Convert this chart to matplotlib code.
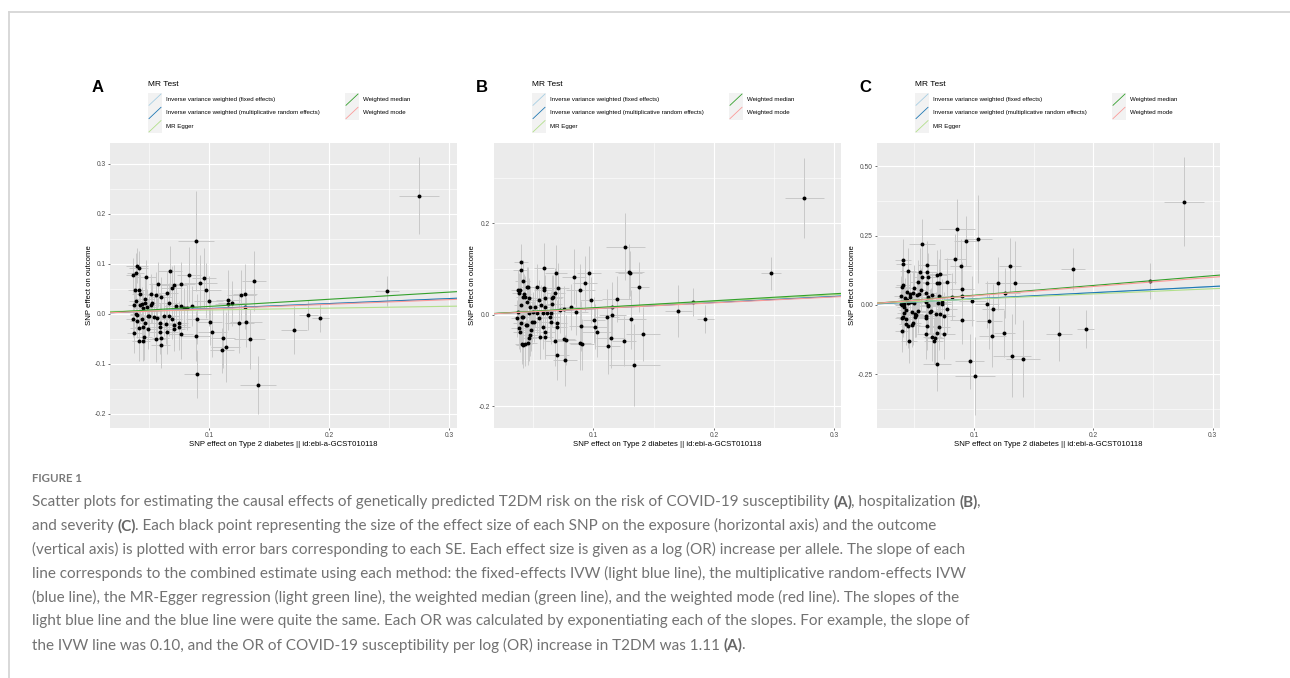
import matplotlib
matplotlib.use("Agg")
import matplotlib.pyplot as plt
from matplotlib.lines import Line2D
from matplotlib.patches import Rectangle
import numpy as np

# ---------------- data ----------------
# panel A: COVID-19 susceptibility
a_bx = [0.275, 0.089, 0.248, 0.138, 0.0905, 0.141, 0.171, 0.183, 0.193, 0.134,
        0.111, 0.114, 0.112, 0.103, 0.101, 0.100, 0.098, 0.096, 0.093, 0.090,
        0.089, 0.0837, 0.086, 0.082, 0.0767, 0.0767, 0.077, 0.073, 0.071, 0.071,
        0.069, 0.068, 0.067, 0.065, 0.067, 0.071, 0.064, 0.075, 0.075, 0.069,
        0.060, 0.058, 0.059, 0.059, 0.060, 0.060, 0.0597, 0.063, 0.0557, 0.056,
        0.053, 0.052, 0.0515, 0.050, 0.054, 0.049, 0.048, 0.047, 0.047, 0.0487,
        0.045, 0.044, 0.043, 0.042, 0.044, 0.045, 0.046, 0.045, 0.042, 0.0416,
        0.0404, 0.0404, 0.0416, 0.039, 0.037, 0.0383, 0.0395, 0.0373, 0.037, 0.038,
        0.040, 0.0423, 0.0395, 0.047, 0.049, 0.0565, 0.065, 0.116, 0.1195, 0.116,
        0.1255, 0.127, 0.130, 0.131, 0.130, 0.079]
a_by = [0.236, 0.145, 0.045, 0.065, -0.120, -0.142, -0.033, -0.003, -0.009, -0.051,
        -0.073, -0.067, -0.049, -0.037, -0.017, 0.026, 0.047, 0.071, 0.062, -0.011,
        -0.045, 0.078, 0.015, 0.012, 0.059, -0.040, 0.015, 0.016, 0.057, -0.030,
        0.051, 0.086, 0.021, 0.041, -0.004, -0.022, -0.021, -0.027, -0.019, -0.011,
        0.033, 0.059, -0.018, -0.036, -0.063, -0.048, -0.026, -0.005, -0.051, 0.038,
        0.022, 0.039, 0.017, -0.004, -0.006, -0.031, 0.073, 0.021, 0.029, 0.014,
        0.011, 0.019, 0.039, 0.047, -0.010, -0.026, -0.047, -0.055, -0.054, -0.029,
        -0.003, 0.096, 0.091, 0.082, 0.077, 0.047, 0.025, 0.017, -0.011, -0.039,
        -0.014, 0.017, 0.000, -0.019, -0.005, -0.009, -0.036, 0.019, 0.021, 0.027,
        -0.019, 0.037, 0.039, -0.017, 0.014, 0.011]
a_sx = [0.017, 0.015, 0.010, 0.010, 0.011, 0.015, 0.011, 0.008, 0.007, 0.013,
        0.010, 0.012, 0.010, 0.012, 0.010, 0.012, 0.012, 0.010, 0.014, 0.009,
        0.012, 0.010, 0.010, 0.009, 0.012, 0.010, 0.008, 0.010, 0.011, 0.009,
        0.009, 0.010, 0.008, 0.009, 0.008, 0.010, 0.008, 0.009, 0.008, 0.009,
        0.009, 0.008, 0.008, 0.009, 0.008, 0.007, 0.008, 0.009, 0.008, 0.008,
        0.007, 0.008, 0.007, 0.008, 0.008, 0.007, 0.008, 0.007, 0.007, 0.008,
        0.007, 0.006, 0.007, 0.006, 0.007, 0.007, 0.007, 0.006, 0.006, 0.007,
        0.006, 0.009, 0.008, 0.007, 0.006, 0.006, 0.006, 0.005, 0.006, 0.006,
        0.006, 0.006, 0.005, 0.007, 0.007, 0.008, 0.009, 0.011, 0.012, 0.010,
        0.012, 0.012, 0.010, 0.013, 0.010, 0.008]
a_sy = [0.077, 0.100, 0.030, 0.060, 0.048, 0.058, 0.048, 0.030, 0.028, 0.060,
        0.045, 0.070, 0.060, 0.050, 0.045, 0.050, 0.055, 0.060, 0.055, 0.050,
        0.050, 0.055, 0.040, 0.045, 0.045, 0.050, 0.040, 0.045, 0.040, 0.045,
        0.045, 0.050, 0.040, 0.045, 0.040, 0.045, 0.040, 0.045, 0.045, 0.040,
        0.040, 0.045, 0.040, 0.045, 0.045, 0.040, 0.040, 0.040, 0.045, 0.045,
        0.040, 0.040, 0.035, 0.040, 0.040, 0.040, 0.035, 0.035, 0.040, 0.035,
        0.035, 0.035, 0.040, 0.035, 0.040, 0.040, 0.045, 0.040, 0.040, 0.040,
        0.035, 0.035, 0.035, 0.040, 0.035, 0.035, 0.035, 0.035, 0.035, 0.040,
        0.035, 0.035, 0.035, 0.040, 0.035, 0.040, 0.045, 0.050, 0.045, 0.060,
        0.060, 0.050, 0.060, 0.050, 0.045, 0.040]

# panel B: hospitalization
b_bx = [0.275, 0.2475, 0.1825, 0.1705, 0.193, 0.1266, 0.130, 0.1307, 0.138, 0.134,
        0.1415, 0.1257, 0.1315, 0.1196, 0.1158, 0.1158, 0.111, 0.1145, 0.1125, 0.1005,
        0.101, 0.103, 0.0967, 0.098, 0.093, 0.089, 0.0898, 0.089, 0.0906, 0.084,
        0.0815, 0.086, 0.0768, 0.076, 0.077, 0.0696, 0.069, 0.071, 0.0685, 0.0657,
        0.0668, 0.068, 0.070, 0.070, 0.072, 0.066, 0.065, 0.064, 0.0646, 0.0757,
        0.059, 0.059, 0.059, 0.060, 0.0599, 0.0585, 0.058, 0.060, 0.0599, 0.0557,
        0.0535, 0.0546, 0.0563, 0.053, 0.052, 0.050, 0.0507, 0.049, 0.0486, 0.0475,
        0.0466, 0.046, 0.0452, 0.0469, 0.046, 0.0447, 0.0475, 0.0464, 0.0447, 0.0427,
        0.0419, 0.0419, 0.0433, 0.0419, 0.0408, 0.0414, 0.040, 0.0397, 0.0391, 0.0386,
        0.040, 0.0405, 0.0397, 0.0391, 0.0378, 0.0372, 0.037, 0.038, 0.0433, 0.0441,
        0.0546, 0.0613]
b_by = [0.256, 0.0905, 0.028, 0.008, -0.0095, 0.149, 0.094, 0.0905, 0.061, -0.110,
        -0.042, -0.058, -0.010, 0.034, 0.0175, -0.0015, -0.004, -0.052, -0.069, -0.012,
        -0.026, -0.037, 0.0905, 0.032, 0.0686, 0.055, -0.025, -0.061, -0.065, 0.083,
        0.0175, 0.005, -0.100, -0.053, -0.055, -0.088, 0.092, 0.058, 0.0467, 0.036,
        0.038, -0.057, -0.0175, -0.026, 0.010, 0.023, 0.003, -0.004, -0.015, 0.012,
        0.1015, 0.059, 0.054, 0.036, 0.0175, 0.003, -0.026, -0.037, -0.048, -0.048,
        0.060, 0.032, 0.021, 0.003, 0.0175, 0.005, -0.015, -0.015, -0.0336, -0.0445,
        -0.052, -0.061, 0.0285, 0.036, 0.060, 0.060, 0.0175, 0.003, -0.0226, 0.0445,
        0.039, -0.004, -0.063, -0.066, -0.063, 0.0745, 0.1146, 0.099, 0.054, 0.0467,
        0.021, -0.004, -0.019, -0.037, 0.054, 0.0066, -0.008, -0.030, 0.039, -0.0226,
        -0.008, 0.003]
b_sx = [0.016, 0.008, 0.010, 0.011, 0.007, 0.016, 0.012, 0.010, 0.008, 0.021,
        0.014, 0.010, 0.012, 0.012, 0.010, 0.011, 0.010, 0.012, 0.010, 0.009,
        0.010, 0.012, 0.010, 0.009, 0.010, 0.012, 0.010, 0.009, 0.010, 0.010,
        0.009, 0.010, 0.010, 0.009, 0.009, 0.010, 0.009, 0.009, 0.008, 0.008,
        0.008, 0.009, 0.008, 0.008, 0.009, 0.008, 0.008, 0.008, 0.008, 0.009,
        0.008, 0.008, 0.008, 0.008, 0.007, 0.008, 0.008, 0.008, 0.007, 0.008,
        0.008, 0.007, 0.008, 0.007, 0.007, 0.007, 0.007, 0.007, 0.007, 0.007,
        0.007, 0.007, 0.006, 0.006, 0.007, 0.006, 0.006, 0.006, 0.006, 0.006,
        0.006, 0.006, 0.006, 0.006, 0.006, 0.006, 0.006, 0.006, 0.006, 0.006,
        0.006, 0.006, 0.006, 0.006, 0.006, 0.005, 0.005, 0.006, 0.006, 0.006,
        0.007, 0.008]
b_sy = [0.088, 0.036, 0.030, 0.057, 0.030, 0.073, 0.060, 0.050, 0.055, 0.090,
        0.060, 0.055, 0.065, 0.050, 0.055, 0.050, 0.060, 0.065, 0.060, 0.050,
        0.050, 0.055, 0.060, 0.050, 0.060, 0.055, 0.055, 0.060, 0.055, 0.060,
        0.050, 0.050, 0.055, 0.050, 0.055, 0.055, 0.060, 0.055, 0.055, 0.050,
        0.050, 0.055, 0.050, 0.050, 0.050, 0.050, 0.050, 0.050, 0.050, 0.050,
        0.055, 0.050, 0.050, 0.050, 0.045, 0.045, 0.050, 0.050, 0.050, 0.050,
        0.050, 0.045, 0.045, 0.045, 0.045, 0.045, 0.045, 0.045, 0.045, 0.045,
        0.050, 0.050, 0.045, 0.045, 0.045, 0.045, 0.045, 0.045, 0.045, 0.045,
        0.045, 0.045, 0.050, 0.050, 0.045, 0.045, 0.040, 0.045, 0.045, 0.045,
        0.045, 0.045, 0.045, 0.045, 0.045, 0.040, 0.040, 0.045, 0.045, 0.045,
        0.045, 0.050]

# panel C: severity
c_bx = [0.276, 0.2474, 0.183, 0.1713, 0.1937, 0.0964, 0.1008, 0.086, 0.1034, 0.093,
        0.084, 0.0888, 0.090, 0.0897, 0.090, 0.0986, 0.111, 0.1126, 0.116, 0.1154,
        0.1199, 0.1263, 0.1255, 0.130, 0.134, 0.132, 0.141, 0.0815, 0.077, 0.077,
        0.0751, 0.0751, 0.073, 0.073, 0.0715, 0.0706, 0.0706, 0.0712, 0.0706, 0.0692,
        0.0689, 0.0695, 0.0692, 0.0689, 0.0678, 0.067, 0.0662, 0.065, 0.065, 0.0634,
        0.0642, 0.0611, 0.0614, 0.0614, 0.0614, 0.0606, 0.0606, 0.0606, 0.060, 0.060,
        0.060, 0.060, 0.0606, 0.060, 0.0564, 0.0566, 0.0552, 0.0547, 0.054, 0.0533,
        0.053, 0.0522, 0.051, 0.0505, 0.0494, 0.0494, 0.0488, 0.0477, 0.0477, 0.0485,
        0.0466, 0.046, 0.0455, 0.0449, 0.0446, 0.0446, 0.0438, 0.0438, 0.0432, 0.0427,
        0.0427, 0.0418, 0.0413, 0.0415, 0.0407, 0.0404, 0.0404, 0.0399, 0.0404, 0.0399,
        0.0393, 0.0387, 0.0385, 0.0393, 0.041, 0.046, 0.0488, 0.0508]
c_by = [0.3726, 0.0865, 0.130, -0.103, -0.0865, -0.203, -0.255, 0.273, 0.238, 0.231,
        0.165, 0.142, 0.0565, 0.0337, -0.054, 0.0144, 0.0024, -0.059, -0.013, -0.112,
        0.078, 0.042, -0.102, 0.142, 0.0805, -0.183, -0.1935, 0.030, 0.084, -0.0156,
        -0.1046, -0.0385, 0.012, 0.0036, 0.112, 0.0805, 0.0337, -0.0337, -0.078, 0.108,
        0.078, 0.006, -0.102, -0.214, -0.0325, -0.120, -0.1286, -0.1166, 0.036, -0.024,
        -0.020, 0.102, 0.030, 0.000, -0.004, 0.144, 0.120, 0.0805, 0.042, 0.012,
        -0.0397, -0.048, -0.0757, -0.106, 0.219, 0.102, 0.054, 0.120, 0.0397, 0.0817,
        -0.0216, 0.036, -0.037, -0.0337, 0.0625, 0.006, 0.042, -0.024, -0.072, -0.066,
        0.030, 0.0397, -0.1286, -0.0757, 0.006, 0.124, 0.0457, 0.018, -0.018, -0.049,
        -0.0697, 0.024, -0.006, -0.0276, 0.1466, 0.162, 0.072, 0.066, -0.042, -0.048,
        0.000, 0.0337, 0.0024, -0.094, 0.0024, 0.012, 0.012, -0.042]
c_sx = [0.017, 0.008, 0.010, 0.011, 0.007, 0.012, 0.017, 0.015, 0.012, 0.010,
        0.009, 0.009, 0.010, 0.010, 0.010, 0.011, 0.010, 0.011, 0.009, 0.011,
        0.011, 0.012, 0.009, 0.009, 0.021, 0.016, 0.014, 0.009, 0.008, 0.009,
        0.009, 0.009, 0.008, 0.008, 0.009, 0.008, 0.008, 0.008, 0.009, 0.008,
        0.008, 0.008, 0.008, 0.012, 0.008, 0.008, 0.008, 0.008, 0.008, 0.008,
        0.008, 0.008, 0.008, 0.007, 0.008, 0.008, 0.008, 0.008, 0.008, 0.008,
        0.008, 0.008, 0.008, 0.008, 0.011, 0.008, 0.007, 0.008, 0.007, 0.007,
        0.007, 0.007, 0.007, 0.007, 0.007, 0.007, 0.007, 0.007, 0.007, 0.007,
        0.006, 0.006, 0.007, 0.006, 0.006, 0.007, 0.006, 0.006, 0.006, 0.006,
        0.006, 0.006, 0.006, 0.006, 0.006, 0.007, 0.006, 0.006, 0.006, 0.006,
        0.006, 0.006, 0.006, 0.006, 0.006, 0.006, 0.007, 0.007]
c_sy = [0.160, 0.065, 0.075, 0.100, 0.070, 0.100, 0.140, 0.110, 0.160, 0.090,
        0.090, 0.095, 0.100, 0.090, 0.085, 0.090, 0.085, 0.100, 0.090, 0.110,
        0.095, 0.090, 0.085, 0.100, 0.150, 0.150, 0.140, 0.085, 0.085, 0.085,
        0.090, 0.085, 0.080, 0.080, 0.090, 0.085, 0.080, 0.085, 0.085, 0.090,
        0.085, 0.080, 0.085, 0.095, 0.080, 0.090, 0.085, 0.085, 0.080, 0.080,
        0.080, 0.085, 0.080, 0.080, 0.080, 0.085, 0.085, 0.085, 0.080, 0.080,
        0.080, 0.085, 0.085, 0.090, 0.090, 0.085, 0.080, 0.085, 0.080, 0.080,
        0.080, 0.080, 0.080, 0.080, 0.080, 0.075, 0.080, 0.080, 0.080, 0.080,
        0.075, 0.075, 0.080, 0.080, 0.075, 0.080, 0.075, 0.075, 0.075, 0.075,
        0.075, 0.075, 0.075, 0.075, 0.075, 0.075, 0.075, 0.075, 0.075, 0.075,
        0.075, 0.070, 0.070, 0.075, 0.070, 0.075, 0.075, 0.075]

# MR estimates (intercept, slope) per method
methods = ["Inverse variance weighted (fixed effects)",
           "Inverse variance weighted (multiplicative random effects)",
           "MR Egger", "Weighted median", "Weighted mode"]
method_colors = ["#A6CEE3", "#1F78B4", "#B2DF8A", "#33A02C", "#FB9A99"]
a_icpt = [0.0, 0.0, 0.0035, 0.0, 0.0]
a_slope = [0.100, 0.100, 0.037, 0.143, 0.093]
b_icpt = [0.0, 0.0, 0.0, 0.0, 0.0]
b_slope = [0.134, 0.134, 0.146, 0.153, 0.130]
c_icpt = [0.0, 0.0, 0.0025, 0.0, 0.0]
c_slope = [0.222, 0.222, 0.187, 0.352, 0.333]

xticks = [0.1, 0.2, 0.3]
xticklabels = ["0.1", "0.2", "0.3"]

# ---------------- figure ----------------
W, H = 1290, 678
fig = plt.figure(figsize=(W / 100, H / 100), dpi=100)
SANS = ["Liberation Sans", "DejaVu Sans"]


def fx(x):
    return x / W


def fy(y):
    return 1 - y / H


# page frame
fig.add_artist(Line2D([fx(9), 1], [fy(11.5), fy(11.5)], color="#d6d6d6", lw=1.3))
fig.add_artist(Line2D([fx(9), fx(9)], [fy(11.5), 0], color="#d6d6d6", lw=1.3))

panels = [
    dict(letter="A", left=110, right=457, xlim=(0.0177, 0.3067), ylim=(-0.2287, 0.341),
         yt=[-0.2, -0.1, 0.0, 0.1, 0.2, 0.3], ytl=["-0.2", "-0.1", "0.0", "0.1", "0.2", "0.3"],
         ym=[-0.15, -0.05, 0.05, 0.15, 0.25],
         bx=a_bx, by=a_by, sx=a_sx, sy=a_sy, icpt=a_icpt, slope=a_slope, ylab_off=21),
    dict(letter="B", left=494, right=841, xlim=(0.0176, 0.3055), ylim=(-0.248, 0.376),
         yt=[-0.2, 0.0, 0.2], ytl=["-0.2", "0.0", "0.2"], ym=[-0.1, 0.1, 0.3],
         bx=b_bx, by=b_by, sx=b_sx, sy=b_sy, icpt=b_icpt, slope=b_slope, ylab_off=21),
    dict(letter="C", left=877, right=1220, xlim=(0.0186, 0.3062), ylim=(-0.4435, 0.584),
         yt=[-0.25, 0.0, 0.25, 0.5], ytl=["-0.25", "0.00", "0.25", "0.50"],
         ym=[-0.375, -0.125, 0.125, 0.375],
         bx=c_bx, by=c_by, sx=c_sx, sy=c_sy, icpt=c_icpt, slope=c_slope, ylab_off=24),
]

TOP, BOT = 143, 428
for p in panels:
    l, r = p["left"], p["right"]
    ax = fig.add_axes([fx(l), fy(BOT), (r - l) / W, (BOT - TOP) / H])
    ax.set_facecolor("#EBEBEB")
    for s in ax.spines.values():
        s.set_visible(False)
    ax.set_xlim(*p["xlim"])
    ax.set_ylim(*p["ylim"])
    ax.set_xticks(xticks)
    ax.set_xticklabels(xticklabels)
    ax.set_xticks([0.05, 0.15, 0.25], minor=True)
    ax.set_yticks(p["yt"])
    ax.set_yticklabels(p["ytl"])
    ax.set_yticks(p["ym"], minor=True)
    ax.grid(which="major", color="white", lw=0.8)
    ax.grid(which="minor", color="white", lw=0.4)
    ax.set_axisbelow(True)
    ax.tick_params(which="major", length=1.6, width=0.5, color="#333333",
                   labelsize=4.8, labelcolor="#4D4D4D", pad=1.2)
    ax.tick_params(which="minor", length=0)
    for t in ax.get_xticklabels() + ax.get_yticklabels():
        t.set_family(SANS)

    ax.errorbar(p["bx"], p["by"], yerr=p["sy"], fmt="none", ecolor="#C8C8C8",
                elinewidth=0.7, capsize=0, zorder=2)
    ax.errorbar(p["bx"], p["by"], xerr=p["sx"], fmt="none", ecolor="#C8C8C8",
                elinewidth=0.7, capsize=0, zorder=2)
    ax.scatter(p["bx"], p["by"], s=8, c="black", linewidths=0, zorder=3)
    xs = np.array(p["xlim"])
    for b0, b1, col in zip(p["icpt"], p["slope"], method_colors):
        ax.plot(xs, b0 + b1 * xs, color=col, lw=0.8, zorder=4)

    # axis titles
    fig.text(fx((l + r) / 2), fy(445), "SNP effect on Type 2 diabetes || id:ebi-a-GCST010118",
             ha="center", va="center", fontsize=5.6, family=SANS, color="black")
    fig.text(fx(l - p["ylab_off"]), fy((TOP + BOT) / 2), "SNP effect on outcome",
             rotation=90, ha="center", va="center", fontsize=5.6, family=SANS, color="black")

    # panel letter
    fig.text(fx(l - 12), fy(87), p["letter"], ha="center", va="center",
             fontsize=12, fontweight="bold", family=SANS)

    # legend
    fig.text(fx(l + 38), fy(85), "MR Test", ha="left", va="center", fontsize=6,
             family=SANS)
    key_pos = [(0, 0), (0, 1), (0, 2), (1, 0), (1, 1)]
    for (col, row), name, colr in zip(key_pos, methods, method_colors):
        kx = l + 38 + col * 197
        ky = 93 + row * 13.3
        fig.add_artist(Rectangle((fx(kx), fy(ky + 13.3)), 14 / W, 13.3 / H,
                                 facecolor="#F2F2F2", edgecolor="none",
                                 transform=fig.transFigure))
        fig.add_artist(Line2D([fx(kx + 1), fx(kx + 13)], [fy(ky + 12.3), fy(ky + 1)],
                              color=colr, lw=0.6))
        fig.text(fx(kx + 18), fy(ky + 6.6), name, ha="left", va="center",
                 fontsize=4.4, family=SANS, color="black")

# ---------------- caption ----------------
CAP = ["Lato", "DejaVu Sans"]
cap_color = "#727272"
fig.text(fx(32), fy(478), "FIGURE 1", ha="left", va="center", fontsize=8.3,
         family=CAP, fontweight="bold", color="#7a7a7a")

caption = [
    "Scatter plots for estimating the causal effects of genetically predicted T2DM risk on the risk of COVID-19 susceptibility **(A)**, hospitalization **(B)**,",
    "and severity **(C)**. Each black point representing the size of the effect size of each SNP on the exposure (horizontal axis) and the outcome",
    "(vertical axis) is plotted with error bars corresponding to each SE. Each effect size is given as a log (OR) increase per allele. The slope of each",
    "line corresponds to the combined estimate using each method: the fixed-effects IVW (light blue line), the multiplicative random-effects IVW",
    "(blue line), the MR-Egger regression (light green line), the weighted median (green line), and the weighted mode (red line). The slopes of the",
    "light blue line and the blue line were quite the same. Each OR was calculated by exponentiating each of the slopes. For example, the slope of",
    "the IVW line was 0.10, and the OR of COVID-19 susceptibility per log (OR) increase in T2DM was 1.11 **(A)**.",
]
cap_size = 11.0
renderer = fig.canvas.get_renderer()


def text_w(s, weight):
    t = fig.text(0, 0, s, fontsize=cap_size, family=CAP, fontweight=weight)
    w = t.get_window_extent(renderer).width
    t.remove()
    return w


space_w = text_w("a a", "normal") - text_w("aa", "normal")

for i, line in enumerate(caption):
    y = fy(502 + i * 23.9)
    xpix = 32.0
    prev_space = True
    parts = line.split("**")
    for j, part in enumerate(parts):
        if not part:
            continue
        bold = j % 2 == 1
        if part.startswith(" "):
            xpix += space_w
        elif not prev_space:
            xpix -= 1.5
        body = part.strip()
        t = fig.text(fx(xpix), y, body, ha="left", va="center", fontsize=cap_size,
                     family=CAP, fontweight="bold" if bold else "normal",
                     color="#666666" if bold else cap_color)
        xpix += t.get_window_extent(renderer).width
        prev_space = part.endswith(" ")
        if prev_space:
            xpix += space_w

fig.savefig("out.png", dpi=100)
